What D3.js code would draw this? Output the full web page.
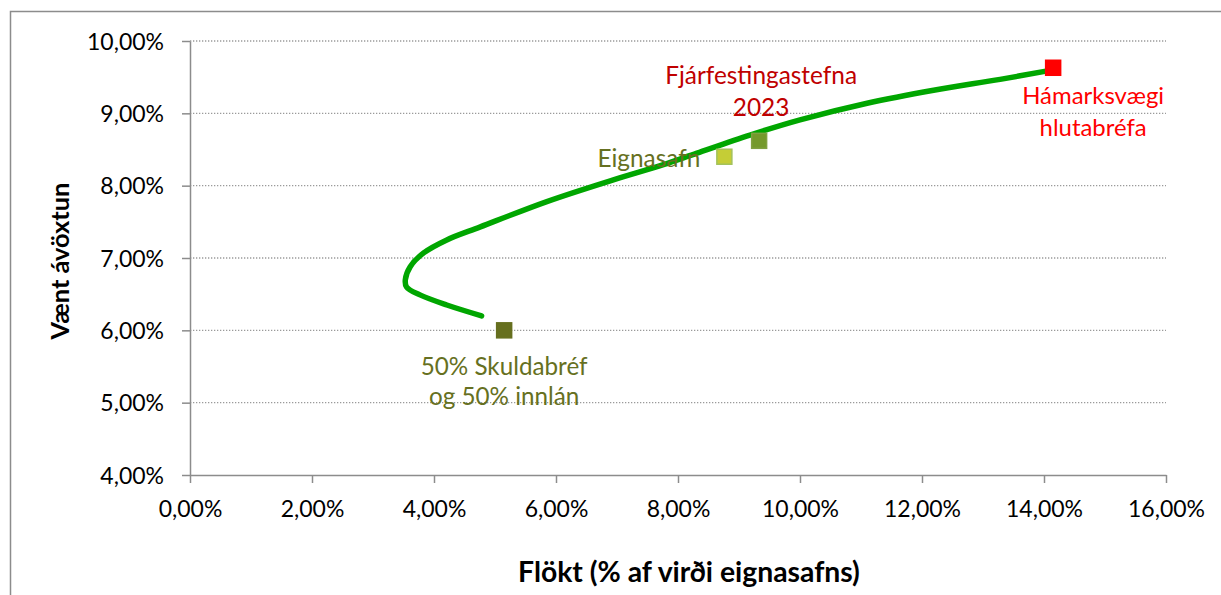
<!DOCTYPE html>
<html>
<head>
<meta charset="utf-8">
<script src="https://cdn.jsdelivr.net/npm/d3@7"></script>
<style>
  html, body { margin: 0; padding: 0; background: #fff; }
  svg { display: block; font-family: Lato, "Open Sans", sans-serif; }
</style>
</head>
<body>
<svg id="chart" width="1221" height="595"></svg>
<script>
// ---- data ----
const frontierRisk   = [4.78, 4.21, 3.77, 3.55, 3.53, 3.61, 3.83, 4.21, 4.76, 5.85, 6.94, 7.76, 8.31, 9.18, 10.00, 11.10, 12.19, 13.28, 14.08];
const frontierReturn = [6.20, 6.35, 6.49, 6.60, 6.70, 6.88, 7.07, 7.25, 7.43, 7.78, 8.08, 8.29, 8.45, 8.70, 8.91, 9.14, 9.32, 9.47, 9.59];

const portfolioNames  = ["50% Skuldabréf og 50% innlán", "Eignasafn", "Fjárfestingastefna 2023", "Hámarksvægi hlutabréfa"];
const portfolioRisk   = [5.15, 8.76, 9.33, 14.15];
const portfolioReturn = [6.00, 8.40, 8.62, 9.63];
const portfolioLabelLines = [["50% Skuldabréf", "og 50% innlán"], ["Eignasafn"], ["Fjárfestingastefna", "2023"], ["Hámarksvægi", "hlutabréfa"]];

const xTicks = [0, 2, 4, 6, 8, 10, 12, 14, 16];
const yTicks = [4, 5, 6, 7, 8, 9, 10];
const xTitle = "Flökt (% af virði eignasafns)";
const yTitle = "Vænt ávöxtun";

// ---- styles (not data) ----
const markerStyle = [
  { fill: "#666f1f", stroke: "#666f1f" },
  { fill: "#c5cd36", stroke: "#a3c25a" },
  { fill: "#74992b", stroke: "#80a040" },
  { fill: "#ff0000", stroke: "#ff0000" }
];
const labelStyle = [
  { color: "#667021", dx: 0,   dy: 45,  anchor: "middle", width: 167, lh: 30 },
  { color: "#667021", dx: -24, dy: 10,  anchor: "end",    width: 103, lh: 30 },
  { color: "#c00000", dx: 2,   dy: -57, anchor: "middle", width: 192, lh: 32 },
  { color: "#ff0000", dx: 40,  dy: 36,  anchor: "middle", width: 142, lh: 32 }
];

const svg = d3.select("#chart");
const x = d3.scaleLinear().domain([0, 16]).range([190, 1166]);
const y = d3.scaleLinear().domain([4, 10]).range([475, 41]);
const fmt = v => d3.format(".2f")(v).replace(".", ",") + "%";

function fit(sel, target) {
  const w = sel.node().getComputedTextLength();
  const fs = parseFloat(sel.attr("font-size"));
  sel.attr("font-size", fs * target / w);
  return fs * target / w;
}

// frame
svg.append("rect").attr("x", 10.5).attr("y", 11.5).attr("width", 1230).attr("height", 600)
  .attr("fill", "none").attr("stroke", "#8c8c8c").attr("stroke-width", 1.5);

// gridlines
svg.append("g").selectAll("line").data(yTicks.filter(d => d > 4)).join("line")
  .attr("x1", x(0)).attr("x2", x(16)).attr("y1", d => y(d)).attr("y2", d => y(d))
  .attr("stroke", "#9a9a9a").attr("stroke-width", 1.3).attr("stroke-dasharray", "1.3,1.7");

// axes
const xAxis = svg.append("g").attr("transform", `translate(0,${y(4)})`)
  .call(d3.axisBottom(x).tickValues(xTicks).tickFormat(fmt).tickSize(8).tickSizeOuter(0));
const yAxis = svg.append("g").attr("transform", `translate(${x(0)},0)`)
  .call(d3.axisLeft(y).tickValues(yTicks).tickFormat(fmt).tickSize(8).tickSizeOuter(0));
[xAxis, yAxis].forEach(a => {
  a.select(".domain").attr("stroke", "#8c8c8c").attr("stroke-width", 1.5);
  a.selectAll(".tick line").attr("stroke", "#8c8c8c").attr("stroke-width", 1.5);
  a.selectAll(".tick text").attr("fill", "#000").attr("font-family", "Lato, 'Open Sans', sans-serif");
});
// size tick labels
const probe = svg.append("text").attr("font-size", 20).text(fmt(10));
const tickFs = fit(probe, 77);
probe.remove();
xAxis.selectAll(".tick text").attr("font-size", tickFs).attr("dy", null).attr("y", 42);
yAxis.selectAll(".tick text").attr("font-size", tickFs).attr("x", -26).attr("dy", "0.36em");

// axis titles
const xt = svg.append("text").attr("x", 689).attr("y", 582).attr("text-anchor", "middle")
  .attr("font-weight", "bold").attr("font-size", 22).attr("fill", "#000").text(xTitle);
fit(xt, 342);
const yt = svg.append("text").attr("transform", "translate(69,261) rotate(-90)").attr("text-anchor", "middle")
  .attr("font-weight", "bold").attr("font-size", 22).attr("fill", "#000").text(yTitle);
fit(yt, 157);

// frontier line
const line = d3.line().x(d => x(d[0])).y(d => y(d[1])).curve(d3.curveCatmullRom.alpha(0.5));
svg.append("path").datum(frontierRisk.map((r, i) => [r, frontierReturn[i]]))
  .attr("d", line).attr("fill", "none").attr("stroke", "#00a600").attr("stroke-width", 5.5)
  .attr("stroke-linecap", "round");

// markers
const ms = 15;
svg.append("g").selectAll("rect").data(portfolioNames).join("rect")
  .attr("x", (d, i) => x(portfolioRisk[i]) - ms / 2)
  .attr("y", (d, i) => y(portfolioReturn[i]) - ms / 2)
  .attr("width", ms).attr("height", ms)
  .attr("fill", (d, i) => markerStyle[i].fill)
  .attr("stroke", (d, i) => markerStyle[i].stroke).attr("stroke-width", 1.5);

// labels
portfolioNames.forEach((name, i) => {
  const st = labelStyle[i];
  const t = svg.append("text")
    .attr("x", x(portfolioRisk[i]) + st.dx)
    .attr("y", y(portfolioReturn[i]) + st.dy)
    .attr("text-anchor", st.anchor).attr("fill", st.color).attr("font-size", 22);
  const lines = portfolioLabelLines[i];
  const spans = lines.map((ln, k) => t.append("tspan")
    .attr("x", x(portfolioRisk[i]) + st.dx).attr("dy", k === 0 ? 0 : st.lh).text(ln));
  const w = spans[0].node().getComputedTextLength();
  t.attr("font-size", 22 * st.width / w);
});
</script>
</body>
</html>
